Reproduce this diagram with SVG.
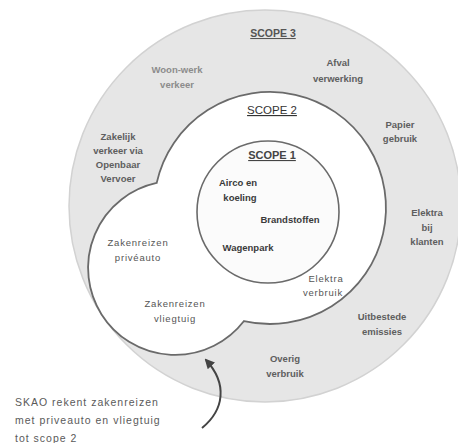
<svg xmlns="http://www.w3.org/2000/svg" width="458" height="443" viewBox="0 0 458 443">
<defs>
<style>
.b{font-family:"Liberation Sans",Arial,sans-serif;font-weight:bold;font-size:9.5px;text-anchor:middle;fill:#5e5e5e}
.bl{fill:#8c8c8c}
.bi{fill:#3a3a3a}
.r{font-family:"Liberation Sans",Arial,sans-serif;font-size:9.5px;text-anchor:middle;fill:#555;letter-spacing:0.8px}
.t{font-family:"Liberation Sans",Arial,sans-serif;text-anchor:middle;text-decoration:underline}
.n{font-family:"Liberation Sans",Arial,sans-serif;font-size:10.5px;fill:#5a5a5a;letter-spacing:1px}
</style>
<marker id="ah" viewBox="0 0 10 10" refX="8" refY="5" markerWidth="5" markerHeight="5" orient="auto" markerUnits="strokeWidth">
<path d="M0,0 L10,5 L0,10 z" fill="#444"/>
</marker>
</defs>
<rect width="458" height="443" fill="#ffffff"/>
<g id="scope3">
<circle cx="265" cy="206" r="196" fill="#e6e6e6" stroke="#d2d2d2" stroke-width="1.5"/>
<text class="t" x="273" y="37" font-size="10.5" font-weight="bold" fill="#555">SCOPE 3</text>
<text class="b bl" x="177" y="73">Woon-werk</text>
<text class="b bl" x="177" y="88">verkeer</text>
<text class="b" x="338" y="66">Afval</text>
<text class="b" x="338" y="82">verwerking</text>
<text class="b" x="400" y="128">Papier</text>
<text class="b" x="400" y="142">gebruik</text>
<text class="b" x="118" y="140">Zakelijk</text>
<text class="b" x="118" y="154">verkeer via</text>
<text class="b" x="118" y="168">Openbaar</text>
<text class="b" x="118" y="182">Vervoer</text>
<text class="b" x="427" y="216">Elektra</text>
<text class="b" x="427" y="231">bij</text>
<text class="b" x="427" y="245">klanten</text>
<text class="b" x="382" y="320">Uitbestede</text>
<text class="b" x="382" y="335">emissies</text>
<text class="b" x="285" y="362">Overig</text>
<text class="b" x="285" y="377">verbruik</text>
</g>
<g id="scope2">
<path d="M156.7,182.9 A116,116 0 1 1 244,321.05 A87,87 0 1 1 156.7,182.9 Z" fill="#ffffff" stroke="#6a6a6a" stroke-width="1.8"/>
<text class="t" x="272" y="114" font-size="11.5" fill="#333">SCOPE 2</text>
<text class="r" x="138" y="246">Zakenreizen</text>
<text class="r" x="138" y="261">privéauto</text>
<text class="r" x="175" y="307">Zakenreizen</text>
<text class="r" x="175" y="322">vliegtuig</text>
<text class="r" x="326" y="282">Elektra</text>
<text class="r" x="323" y="296">verbruik</text>
</g>
<g id="scope1">
<circle cx="268" cy="212" r="71" fill="#fbfbfb" stroke="#6a6a6a" stroke-width="1.6"/>
<text class="t" x="272" y="159" font-size="11" font-weight="bold" fill="#444">SCOPE 1</text>
<text class="b bi" x="238" y="186">Airco en</text>
<text class="b bi" x="240" y="201">koeling</text>
<text class="b bi" x="290" y="223">Brandstoffen</text>
<text class="b bi" x="248" y="251">Wagenpark</text>
</g>
<g id="note">
<text class="n" x="15" y="406">SKAO rekent zakenreizen</text>
<text class="n" x="15" y="424">met priveauto en vliegtuig</text>
<text class="n" x="15" y="442">tot scope 2</text>
</g>
<g id="connectors">
<path d="M202,428 C224,410 228,384 206,360" fill="none" stroke="#444" stroke-width="2" marker-end="url(#ah)"/>
</g>
</svg>
